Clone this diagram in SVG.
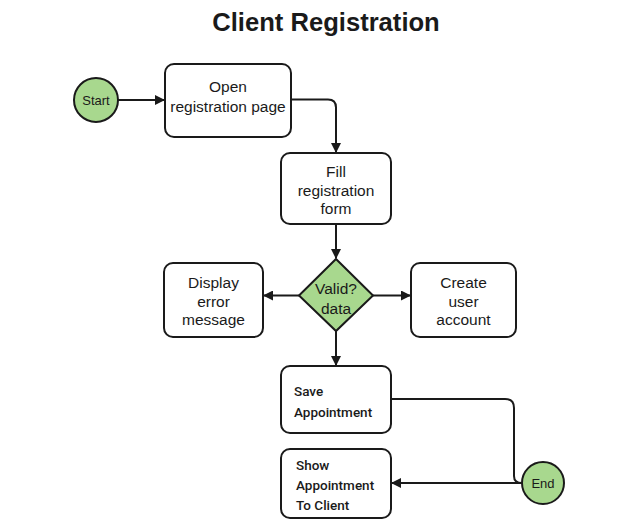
<svg xmlns="http://www.w3.org/2000/svg" width="627" height="527" viewBox="0 0 627 527">
<defs>
<marker id="arr" markerWidth="10" markerHeight="10" refX="9" refY="5" orient="auto" markerUnits="userSpaceOnUse">
<path d="M0,0 L10,5 L0,10 z" fill="#1a1a1a"/>
</marker>
<style>
.box{fill:#fff;stroke:#1a1a1a;stroke-width:2}
.term{fill:#a8d88e;stroke:#1a1a1a;stroke-width:2}
.t{font-family:"Liberation Sans",Arial,sans-serif;font-size:15.5px;fill:#1a1a1a;text-anchor:middle}
.c{font-family:Roboto,"Liberation Sans",sans-serif;font-weight:500;font-size:13.5px;fill:#1a1a1a}
.s{font-family:"Liberation Sans",Arial,sans-serif;font-size:13px;fill:#1a1a1a;text-anchor:middle}
.ln{fill:none;stroke:#1a1a1a;stroke-width:2}
</style>
</defs>
<rect width="627" height="527" fill="#fff"/>
<text x="326" y="31" font-family="Liberation Sans,Arial,sans-serif" font-weight="bold" font-size="25.6" fill="#1a1a1a" text-anchor="middle">Client Registration</text>
<g id="connectors">
<line class="ln" x1="118" y1="100" x2="164" y2="100" marker-end="url(#arr)"/>
<path class="ln" d="M291,99.5 H328 Q336,99.5 336,107.5 V152" marker-end="url(#arr)"/>
<path class="ln" d="M336,224 V258" marker-end="url(#arr)"/>
<line class="ln" x1="299" y1="295.5" x2="264" y2="295.5" marker-end="url(#arr)"/>
<line class="ln" x1="373" y1="295.5" x2="410" y2="295.5" marker-end="url(#arr)"/>
<path class="ln" d="M336,331 V365" marker-end="url(#arr)"/>
<path class="ln" d="M391,399 H505 Q514,399 514,408 V476 Q514,483 522,483"/>
<line class="ln" x1="522" y1="483" x2="392" y2="483" marker-end="url(#arr)"/>
</g>
<g id="start">
<circle class="term" cx="96" cy="100" r="22"/>
<text class="s" x="96" y="105">Start</text>
</g>
<g id="open">
<rect class="box" x="165" y="64" width="126" height="73" rx="9"/>
<text class="t" x="228" y="92">Open</text>
<text class="t" x="228" y="112">registration page</text>
</g>
<g id="fill">
<rect class="box" x="281" y="153" width="110" height="71" rx="9"/>
<text class="t" x="336" y="177">Fill</text>
<text class="t" x="336" y="196">registration</text>
<text class="t" x="336" y="214">form</text>
</g>
<g id="valid">
<polygon class="term" points="336,259 373,295.5 336,331 299,295.5"/>
<text class="t" x="336" y="294">Valid?</text>
<text class="t" x="336" y="314">data</text>
</g>
<g id="display">
<rect class="box" x="164" y="263" width="99" height="74" rx="9"/>
<text class="t" x="213.5" y="288">Display</text>
<text class="t" x="213.5" y="307">error</text>
<text class="t" x="213.5" y="325">message</text>
</g>
<g id="create">
<rect class="box" x="411" y="263" width="105" height="74" rx="9"/>
<text class="t" x="463.5" y="288">Create</text>
<text class="t" x="463.5" y="307">user</text>
<text class="t" x="463.5" y="325">account</text>
</g>
<g id="save">
<rect class="box" x="281" y="366" width="110" height="67" rx="9"/>
<text class="c" x="294" y="396">Save</text>
<text class="c" x="294" y="417">Appointment</text>
</g>
<g id="show">
<rect class="box" x="281" y="449" width="110" height="69" rx="9"/>
<text class="c" x="296" y="470" font-size="12.5">Show</text>
<text class="c" x="296" y="490" font-size="12.5">Appointment</text>
<text class="c" x="296" y="510" font-size="12.5">To Client</text>
</g>
<g id="end">
<circle class="term" cx="543" cy="483" r="21"/>
<text class="s" x="543" y="488">End</text>
</g>
</svg>
